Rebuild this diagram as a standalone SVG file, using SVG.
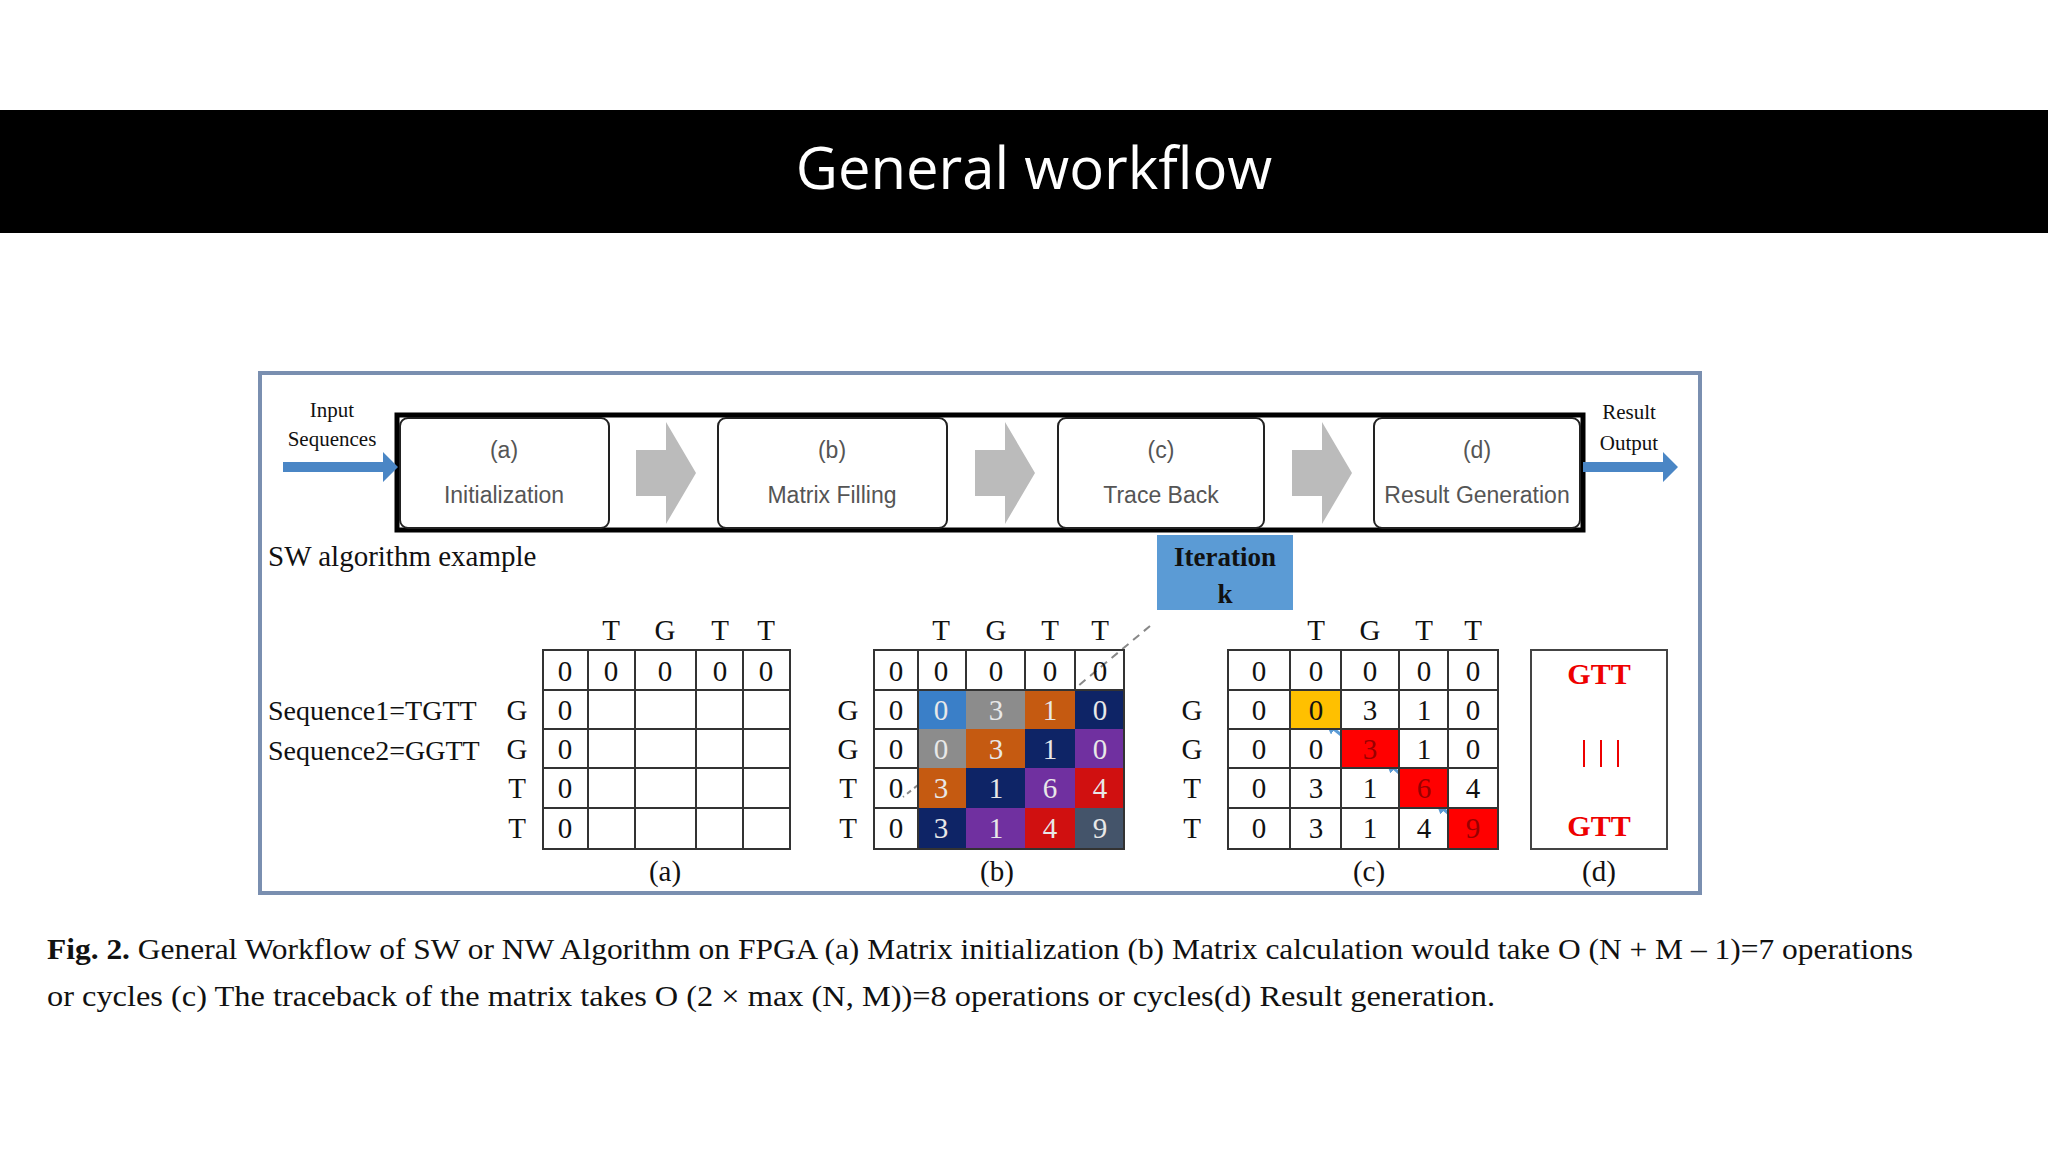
<svg xmlns="http://www.w3.org/2000/svg" width="2048" height="1152" viewBox="0 0 2048 1152">
<style>
.s{font-family:"Liberation Serif",serif;fill:#111}
.c{font-family:"Liberation Sans",sans-serif;fill:#555;font-size:23px;text-anchor:middle}
.g{fill:none;stroke:#333;stroke-width:2}
.m{font-family:"Liberation Serif",serif;font-size:29px;text-anchor:middle;fill:#111}
.w{fill:#ddd}
.box{fill:#fff;stroke:#222;stroke-width:2}
</style>
<defs>
<marker id="bh" markerWidth="4" markerHeight="4" refX="2" refY="2" orient="auto"><path d="M0,0L4,2L0,4z" fill="#5b9bd5"/></marker>
</defs>
<rect width="2048" height="1152" fill="#fff"/>
<rect x="0" y="110" width="2048" height="123" fill="#000"/>
<text x="1034" y="189" font-family="Open Sans,Liberation Sans,sans-serif" font-size="58" fill="#fff" text-anchor="middle">General workflow</text>
<rect x="260" y="373" width="1440" height="520" fill="#fff" stroke="#7a8fb0" stroke-width="4"/>
<g id="pipeline">
<rect x="397" y="415" width="1186" height="115" fill="#fff" stroke="#000" stroke-width="5"/>
<g id="a"><rect class="box" x="400" y="418" width="209" height="110" rx="8"/><text class="c" x="504" y="458">(a)</text><text class="c" x="504" y="503">Initialization</text></g>
<g id="b"><rect class="box" x="718" y="418" width="229" height="110" rx="8"/><text class="c" x="832" y="458">(b)</text><text class="c" x="832" y="503">Matrix Filling</text></g>
<g id="c"><rect class="box" x="1058" y="418" width="206" height="110" rx="8"/><text class="c" x="1161" y="458">(c)</text><text class="c" x="1161" y="503">Trace Back</text></g>
<g id="d"><rect class="box" x="1374" y="418" width="206" height="110" rx="8"/><text class="c" x="1477" y="458">(d)</text><text class="c" x="1477" y="503">Result Generation</text></g>
</g>
<g id="connectors">
<path d="M636,450h30v-28l30,51l-30,51v-28h-30z" fill="#bbb"/>
<path d="M975,450h30v-28l30,51l-30,51v-28h-30z" fill="#bbb"/>
<path d="M1292,450h30v-28l30,51l-30,51v-28h-30z" fill="#bbb"/>
<path d="M283,462h100v-10l15,15l-15,15v-10h-100z" fill="#4a86c5"/>
<path d="M1583,462h80v-10l15,15l-15,15v-10h-80z" fill="#4a86c5"/>
<path d="M1150,626L1078,686" stroke="#888" stroke-width="2" stroke-dasharray="8,6" fill="none"/>
<path d="M918,785L903,797" stroke="#888" stroke-width="2" stroke-dasharray="5,4" fill="none"/>
<path d="M1360,750L1330,726" stroke="#5b9bd5" stroke-width="3" marker-end="url(#bh)"/>
<path d="M1418,790L1390,765" stroke="#5b9bd5" stroke-width="3" marker-end="url(#bh)"/>
<path d="M1465,828L1440,806" stroke="#5b9bd5" stroke-width="3" marker-end="url(#bh)"/>
</g>
<text class="s" x="332" y="417" font-size="21" text-anchor="middle">Input</text>
<text class="s" x="332" y="446" font-size="21" text-anchor="middle">Sequences</text>
<text class="s" x="1629" y="419" font-size="21" text-anchor="middle">Result</text>
<text class="s" x="1629" y="450" font-size="21" text-anchor="middle">Output</text>
<text class="s" x="268" y="566" font-size="29">SW algorithm example</text>
<g id="iteration"><rect x="1157" y="535" width="136" height="75" fill="#5b9bd5"/>
<text class="s" x="1225" y="566" font-size="27" font-weight="bold" text-anchor="middle">Iteration</text>
<text class="s" x="1225" y="603" font-size="27" font-weight="bold" text-anchor="middle">k</text></g>
<text class="s" x="268" y="720" font-size="28">Sequence1=TGTT</text>
<text class="s" x="268" y="760" font-size="28">Sequence2=GGTT</text>
<g id="matrixA">
<path class="g" d="M543,650h247v199h-247zM588,650v199M635,650v199M696,650v199M743,650v199M543,690h247M543,729h247M543,768h247M543,808h247"/>
<g class="m"><text x="611" y="640">T</text><text x="665" y="640">G</text><text x="720" y="640">T</text><text x="766" y="640">T</text>
<text x="517" y="720">G</text><text x="517" y="759">G</text><text x="517" y="798">T</text><text x="517" y="838">T</text>
<text x="565" y="681">0</text><text x="611" y="681">0</text><text x="665" y="681">0</text><text x="720" y="681">0</text><text x="766" y="681">0</text>
<text x="565" y="720">0</text><text x="565" y="759">0</text><text x="565" y="798">0</text><text x="565" y="838">0</text>
<text x="665" y="881">(a)</text></g>
</g>
<g id="matrixB">
<rect x="918" y="690" width="48" height="39" fill="#3a7fc8"/><rect x="966" y="690" width="59" height="39" fill="#8c8c8c"/><rect x="1025" y="690" width="50" height="39" fill="#c55a11"/><rect x="1075" y="690" width="49" height="39" fill="#0e2466"/>
<rect x="918" y="729" width="48" height="39" fill="#8c8c8c"/><rect x="966" y="729" width="59" height="39" fill="#c55a11"/><rect x="1025" y="729" width="50" height="39" fill="#0e2466"/><rect x="1075" y="729" width="49" height="39" fill="#7030a0"/>
<rect x="918" y="768" width="48" height="40" fill="#c55a11"/><rect x="966" y="768" width="59" height="40" fill="#0e2466"/><rect x="1025" y="768" width="50" height="40" fill="#7030a0"/><rect x="1075" y="768" width="49" height="40" fill="#d01010"/>
<rect x="918" y="808" width="48" height="41" fill="#0e2466"/><rect x="966" y="808" width="59" height="41" fill="#7030a0"/><rect x="1025" y="808" width="50" height="41" fill="#d01010"/><rect x="1075" y="808" width="49" height="41" fill="#44546a"/>
<path class="g" d="M874,650h250v199h-250zM918,650v199M966,650v40M1025,650v40M1075,650v40M874,690h250M874,729h44M874,768h44M874,808h44"/>
<g class="m"><text x="941" y="640">T</text><text x="996" y="640">G</text><text x="1050" y="640">T</text><text x="1100" y="640">T</text>
<text x="848" y="720">G</text><text x="848" y="759">G</text><text x="848" y="798">T</text><text x="848" y="838">T</text>
<text x="896" y="681">0</text><text x="941" y="681">0</text><text x="996" y="681">0</text><text x="1050" y="681">0</text><text x="1100" y="681">0</text>
<text x="896" y="720">0</text><text x="896" y="759">0</text><text x="896" y="798">0</text><text x="896" y="838">0</text>
<g fill="#ddd" style="fill:#e8e8e8">
<text x="941" y="720">0</text><text x="996" y="720">3</text><text x="1050" y="720">1</text><text x="1100" y="720">0</text>
<text x="941" y="759">0</text><text x="996" y="759">3</text><text x="1050" y="759">1</text><text x="1100" y="759">0</text>
<text x="941" y="798">3</text><text x="996" y="798">1</text><text x="1050" y="798">6</text><text x="1100" y="798">4</text>
<text x="941" y="838">3</text><text x="996" y="838">1</text><text x="1050" y="838">4</text><text x="1100" y="838">9</text></g>
<text x="997" y="881">(b)</text></g>
</g>
<g id="matrixC">
<rect x="1290" y="690" width="51" height="39" fill="#ffc000"/><rect x="1341" y="729" width="58" height="39" fill="#f00"/><rect x="1399" y="768" width="49" height="40" fill="#f00"/><rect x="1448" y="808" width="50" height="41" fill="#f00"/>
<path class="g" d="M1228,650h270v199h-270zM1290,650v199M1341,650v199M1399,650v199M1448,650v199M1228,690h270M1228,729h270M1228,768h270M1228,808h270"/>
<g class="m"><text x="1316" y="640">T</text><text x="1370" y="640">G</text><text x="1424" y="640">T</text><text x="1473" y="640">T</text>
<text x="1192" y="720">G</text><text x="1192" y="759">G</text><text x="1192" y="798">T</text><text x="1192" y="838">T</text>
<text x="1259" y="681">0</text><text x="1316" y="681">0</text><text x="1370" y="681">0</text><text x="1424" y="681">0</text><text x="1473" y="681">0</text>
<text x="1259" y="720">0</text><text x="1316" y="720">0</text><text x="1370" y="720">3</text><text x="1424" y="720">1</text><text x="1473" y="720">0</text>
<text x="1259" y="759">0</text><text x="1316" y="759">0</text><text x="1370" y="759" fill="#900">3</text><text x="1424" y="759">1</text><text x="1473" y="759">0</text>
<text x="1259" y="798">0</text><text x="1316" y="798">3</text><text x="1370" y="798">1</text><text x="1424" y="798" fill="#900">6</text><text x="1473" y="798">4</text>
<text x="1259" y="838">0</text><text x="1316" y="838">3</text><text x="1370" y="838">1</text><text x="1424" y="838">4</text><text x="1473" y="838" fill="#900">9</text>
<text x="1369" y="881">(c)</text></g>
</g>
<g id="result">
<rect x="1531" y="650" width="136" height="199" fill="#fff" stroke="#444" stroke-width="2"/>
<text class="s" x="1599" y="684" font-size="30" font-weight="bold" fill="#e00" style="fill:#e00" text-anchor="middle">GTT</text>
<path d="M1584,740v27M1601,740v27M1618,740v27" stroke="#e00" stroke-width="2"/>
<text class="s" x="1599" y="836" font-size="30" font-weight="bold" style="fill:#e00" text-anchor="middle">GTT</text>
<text class="m" x="1599" y="881">(d)</text>
</g>
<text class="s" x="47" y="959" font-size="29" textLength="1866" lengthAdjust="spacingAndGlyphs"><tspan font-weight="bold">Fig. 2.</tspan>  General Workflow of SW or NW Algorithm on FPGA (a) Matrix initialization (b) Matrix calculation would take O (N + M – 1)=7 operations</text>
<text class="s" x="47" y="1006" font-size="29" textLength="1448" lengthAdjust="spacingAndGlyphs">or cycles (c) The traceback of the matrix takes O (2 × max (N, M))=8 operations or cycles(d) Result generation.</text>
</svg>
